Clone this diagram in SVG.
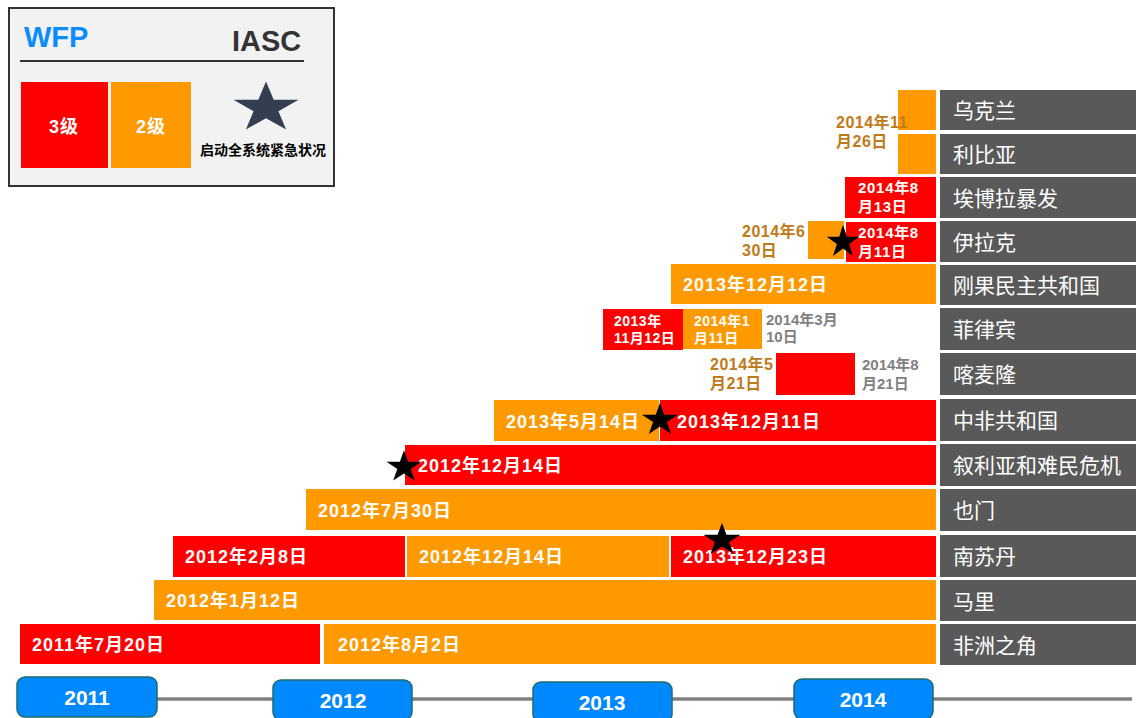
<svg xmlns="http://www.w3.org/2000/svg" xmlns:xlink="http://www.w3.org/1999/xlink" width="1136" height="718" viewBox="0 0 1136 718">
<style>
.r{fill:#FF0000}
.o{fill:#FF9900}
.g{fill:#595959}
.bt{font-family:"Liberation Sans","Noto Sans CJK SC",sans-serif;font-weight:bold;font-size:18px;letter-spacing:1px;fill:#FFFFFF}
.st{font-family:"Liberation Sans","Noto Sans CJK SC",sans-serif;font-weight:bold;font-size:15px;letter-spacing:0.7px;fill:#FFFFFF}
.sp{font-family:"Liberation Sans","Noto Sans CJK SC",sans-serif;font-weight:bold;font-size:14px;letter-spacing:0.5px;fill:#FFFFFF}
.br{font-family:"Liberation Sans","Noto Sans CJK SC",sans-serif;font-weight:bold;font-size:16px;letter-spacing:0.5px;fill:#BF7A1A}
.gr{font-family:"Liberation Sans","Noto Sans CJK SC",sans-serif;font-weight:bold;font-size:15px;fill:#7F7F7F}
.lb{font-family:"Noto Sans CJK SC",sans-serif;font-size:21px;fill:#FFFFFF}
.yr{fill:#0088FF;stroke:#1E6B6B;stroke-width:1.5}
.yt{font-family:"Liberation Sans","Noto Sans CJK SC",sans-serif;font-weight:bold;font-size:21px;fill:#FFFFFF;text-anchor:middle}
</style>
<defs>
<path id="star" d="M0,-20 L4.49,-6.18 L19.02,-6.18 L7.26,2.36 L11.76,16.18 L0,7.64 L-11.76,16.18 L-7.26,2.36 L-19.02,-6.18 L-4.49,-6.18Z"/>
</defs>
<rect width="1136" height="718" fill="#FFFFFF"/>

<g id="legend">
<rect x="9" y="8" width="325" height="178" fill="#F2F2F2" stroke="#333333" stroke-width="2"/>
<text x="24" y="47" font-family="Liberation Sans,sans-serif" font-weight="bold" font-size="29" fill="#0A8CFF">WFP</text>
<text x="232" y="51" font-family="Liberation Sans,sans-serif" font-weight="bold" font-size="29" fill="#333333">IASC</text>
<line x1="20" y1="61" x2="304" y2="61" stroke="#333333" stroke-width="2"/>
<rect x="21" y="82" width="87" height="86" class="r"/>
<rect x="111" y="82" width="80" height="86" class="o"/>
<text x="64" y="133" class="bt" text-anchor="middle" letter-spacing="0">3级</text>
<text x="151" y="133" class="bt" text-anchor="middle" letter-spacing="0">2级</text>
<use xlink:href="#star" transform="translate(266,108) scale(1.71,1.33)" fill="#333F50"/>
<text x="200" y="155" font-family="Liberation Sans,Noto Sans CJK SC,sans-serif" font-weight="bold" font-size="14" fill="#000000">启动全系统紧急状况</text>
</g>

<g id="timeline">
<line x1="155" y1="699" x2="1132" y2="699" stroke="#808080" stroke-width="3.5"/>
<g id="y2011"><rect x="17" y="677" width="140" height="40" rx="8" class="yr"/><text x="87" y="705" class="yt">2011</text></g>
<g id="y2012"><rect x="273" y="680" width="139" height="40" rx="8" class="yr"/><text x="343" y="708" class="yt">2012</text></g>
<g id="y2013"><rect x="533" y="682" width="139" height="40" rx="8" class="yr"/><text x="602" y="710" class="yt">2013</text></g>
<g id="y2014"><rect x="794" y="679" width="139" height="40" rx="8" class="yr"/><text x="863" y="707" class="yt">2014</text></g>
</g>

<g id="labels">
<rect x="940" y="90" width="196" height="40" class="g"/><text x="953" y="118" class="lb">乌克兰</text>
<rect x="940" y="134" width="196" height="40" class="g"/><text x="953" y="162" class="lb">利比亚</text>
<rect x="940" y="177" width="196" height="41" class="g"/><text x="953" y="206" class="lb">埃博拉暴发</text>
<rect x="940" y="221" width="196" height="41" class="g"/><text x="953" y="250" class="lb">伊拉克</text>
<rect x="940" y="265" width="196" height="40" class="g"/><text x="953" y="293" class="lb">刚果民主共和国</text>
<rect x="940" y="308" width="196" height="42" class="g"/><text x="953" y="337" class="lb">菲律宾</text>
<rect x="940" y="353" width="196" height="42" class="g"/><text x="953" y="382" class="lb">喀麦隆</text>
<rect x="940" y="399" width="196" height="42" class="g"/><text x="953" y="428" class="lb">中非共和国</text>
<rect x="940" y="444" width="196" height="42" class="g"/><text x="953" y="473" class="lb">叙利亚和难民危机</text>
<rect x="940" y="489" width="196" height="42" class="g"/><text x="953" y="518" class="lb">也门</text>
<rect x="940" y="535" width="196" height="42" class="g"/><text x="953" y="564" class="lb">南苏丹</text>
<rect x="940" y="580" width="196" height="41" class="g"/><text x="953" y="609" class="lb">马里</text>
<rect x="940" y="624" width="196" height="41" class="g"/><text x="953" y="653" class="lb">非洲之角</text>
</g>

<g id="bars">
<g id="ukraine"><rect x="898" y="90" width="38" height="40" class="o"/></g>
<g id="libya"><rect x="898" y="134" width="38" height="40" class="o"/>
<text x="836" y="128" class="br">2014年11</text><text x="836" y="147" class="br">月26日</text></g>
<g id="ebola"><rect x="845" y="177" width="91" height="41" class="r"/>
<text x="858" y="193" class="st">2014年8</text><text x="858" y="212" class="st">月13日</text></g>
<g id="iraq"><rect x="808" y="221" width="36" height="38" class="o"/><rect x="846" y="222" width="90" height="40" class="r"/>
<text x="742" y="237" class="br">2014年6</text><text x="742" y="256" class="br">30日</text>
<text x="858" y="238" class="st">2014年8</text><text x="858" y="257" class="st">月11日</text></g>
<g id="drc"><rect x="671" y="264" width="265" height="40" class="o"/>
<text x="683" y="291" class="bt">2013年12月12日</text></g>
<g id="philippines"><rect x="603" y="309" width="80" height="41" class="r"/><rect x="683" y="309" width="79" height="40" class="o"/>
<text x="614" y="326" class="sp">2013年</text><text x="614" y="343" class="sp">11月12日</text>
<text x="694" y="326" class="sp">2014年1</text><text x="694" y="343" class="sp">月11日</text>
<text x="766" y="325" class="gr">2014年3月</text><text x="766" y="342" class="gr">10日</text></g>
<g id="cameroon"><rect x="776" y="353" width="79" height="42" class="r"/>
<text x="710" y="370" class="br">2014年5</text><text x="710" y="389" class="br">月21日</text>
<text x="862" y="370" class="gr" font-size="16">2014年8</text><text x="862" y="389" class="gr" font-size="16">月21日</text></g>
<g id="car"><rect x="494" y="400" width="165" height="41" class="o"/><rect x="660" y="400" width="276" height="41" class="r"/>
<text x="506" y="428" class="bt">2013年5月14日</text><text x="677" y="428" class="bt">2013年12月11日</text></g>
<g id="syria"><rect x="405" y="445" width="531" height="40" class="r"/>
<text x="418" y="472" class="bt">2012年12月14日</text></g>
<g id="yemen"><rect x="306" y="489" width="630" height="41" class="o"/>
<text x="318" y="517" class="bt">2012年7月30日</text></g>
<g id="southsudan"><rect x="173" y="536" width="232" height="41" class="r"/><rect x="407" y="536" width="262" height="41" class="o"/><rect x="671" y="536" width="265" height="41" class="r"/>
<text x="185" y="563" class="bt">2012年2月8日</text><text x="419" y="563" class="bt">2012年12月14日</text><text x="683" y="563" class="bt">2013年12月23日</text></g>
<g id="mali"><rect x="154" y="580" width="782" height="40" class="o"/>
<text x="166" y="607" class="bt">2012年1月12日</text></g>
<g id="horn"><rect x="20" y="624" width="300" height="40" class="r"/><rect x="324" y="624" width="612" height="40" class="o"/>
<text x="32" y="651" class="bt">2011年7月20日</text><text x="338" y="651" class="bt">2012年8月2日</text></g>
</g>

<g id="stars" fill="#000000">
<use xlink:href="#star" transform="translate(843,242) scale(0.85,0.86)"/>
<use xlink:href="#star" transform="translate(660,420) scale(0.95,0.86)"/>
<use xlink:href="#star" transform="translate(404,467) scale(0.92,0.84)"/>
<use xlink:href="#star" transform="translate(722,540) scale(0.98,0.86)"/>
</g>
</svg>
